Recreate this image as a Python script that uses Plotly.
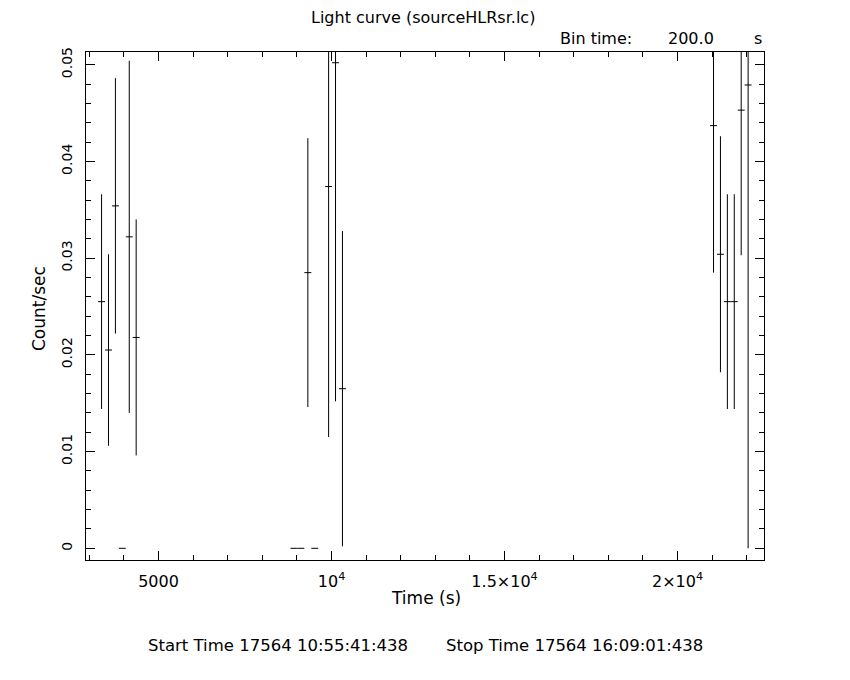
import plotly.graph_objects as go

# ---- data ----
bin_time = 200.0
time_s = [3353, 3553, 3753, 3953, 4153, 4353,
          8915, 9115, 9315, 9515, 9915, 10115, 10315,
          21040, 21240, 21440, 21640, 21840, 22040]
rate = [0.0255, 0.0205, 0.0354, 0.0, 0.0322, 0.0218,
        0.0, 0.0, 0.0285, 0.0, 0.0374, 0.0502, 0.0165,
        0.0437, 0.0304, 0.0255, 0.0255, 0.0453, 0.0479]
rate_err = [0.0111, 0.0099, 0.0132, 0.0, 0.0182, 0.0122,
            0.0, 0.0, 0.0139, 0.0, 0.0259, 0.0350, 0.0163,
            0.0152, 0.0122, 0.0111, 0.0111, 0.0150, 0.0479]

x_tickvals = [5000, 10000, 15000, 20000]
x_ticktext = ["5000", "10<sup>4</sup>", "1.5×10<sup>4</sup>", "2×10<sup>4</sup>"]
y_tickvals = [0, 0.01, 0.02, 0.03, 0.04, 0.05]
y_ticktext = ["0", "0.01", "0.02", "0.03", "0.04", "0.05"]

title_text = "Light curve (sourceHLRsr.lc)"
start_text = "Start Time 17564 10:55:41:438"
stop_text = "Stop Time 17564 16:09:01:438"

FONT = "DejaVu Sans"

fig = go.Figure()
fig.add_trace(go.Scatter(
    x=time_s, y=rate, mode="markers",
    marker=dict(size=1, color="black", opacity=0),
    error_y=dict(type="data", array=rate_err, symmetric=True,
                 width=0, thickness=1, color="black"),
    error_x=dict(type="constant", value=bin_time / 2,
                 width=0, thickness=1, color="black"),
    showlegend=False, hoverinfo="x+y",
))

# page body has an 8px margin: the figure is drawn from (8, 8)
OFF = 8
W, H = 850 - OFF, 680 - OFF
# plot frame in window pixels: x 86..764, y 52..560
L, R, T, B = 86 - OFF, 850 - 764, 52 - OFF, 680 - 560
pw, ph = W - L - R, H - T - B


def px(xw):
    return (xw - OFF - L) / pw


def py(yw):
    return (H - B - (yw - OFF)) / ph


axis_common = dict(
    showline=True, linecolor="black", linewidth=1, mirror="ticks",
    ticks="inside", ticklen=9, tickwidth=1, tickcolor="black",
    showgrid=False, zeroline=False,
)

fig.update_layout(
    width=W, height=H,
    margin=dict(l=L, r=R, t=T, b=B),
    paper_bgcolor="white", plot_bgcolor="white",
    font=dict(family=FONT, color="black", size=16),
    xaxis=dict(
        range=[2903, 22499], tickmode="array",
        tickvals=x_tickvals, ticktext=x_ticktext,
        tickfont=dict(size=16), ticklabelstandoff=7,
        minor=dict(tickmode="linear", tick0=0, dtick=1000, ticks="inside",
                   ticklen=5, tickwidth=1, tickcolor="black"),
        **axis_common,
    ),
    yaxis=dict(
        range=[-0.00121, 0.05131], tickmode="array",
        tickvals=y_tickvals, ticktext=y_ticktext,
        tickangle=-90, tickfont=dict(size=14), ticklabelstandoff=7,
        minor=dict(tickmode="linear", tick0=0, dtick=0.002, ticks="inside",
                   ticklen=5, tickwidth=1, tickcolor="black"),
        **axis_common,
    ),
    annotations=[
        dict(text=title_text, x=px(423), y=py(18), xref="paper", yref="paper",
             xanchor="center", yanchor="middle", showarrow=False,
             font=dict(size=16)),
        dict(text="Bin time:", x=px(558), y=py(38), xref="paper", yref="paper",
             xanchor="left", yanchor="middle", showarrow=False,
             font=dict(size=16)),
        dict(text="200.0", x=px(666), y=py(38), xref="paper", yref="paper",
             xanchor="left", yanchor="middle", showarrow=False,
             font=dict(size=16)),
        dict(text="s", x=px(764), y=py(38), xref="paper", yref="paper",
             xanchor="right", yanchor="middle", showarrow=False,
             font=dict(size=16)),
        dict(text="Count/sec", x=px(39), y=py(308), xref="paper", yref="paper",
             xanchor="center", yanchor="middle", showarrow=False, textangle=-90,
             font=dict(size=17)),
        dict(text="Time (s)", x=px(426), y=py(598), xref="paper", yref="paper",
             xanchor="center", yanchor="middle", showarrow=False,
             font=dict(size=17)),
        dict(text=start_text, x=px(146), y=py(645), xref="paper", yref="paper",
             xanchor="left", yanchor="middle", showarrow=False,
             font=dict(size=16.5)),
        dict(text=stop_text, x=px(444), y=py(645), xref="paper", yref="paper",
             xanchor="left", yanchor="middle", showarrow=False,
             font=dict(size=16.5)),
    ],
)

fig.write_html("out.html")
